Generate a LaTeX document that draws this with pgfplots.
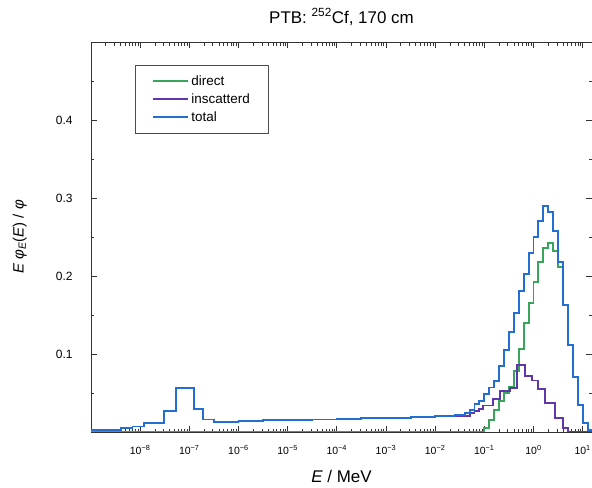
\documentclass[border=0pt]{standalone}
\usepackage{fontspec}
\setmainfont{Liberation Sans}
\usepackage{pgfplots}
\pgfplotsset{compat=1.18}
\definecolor{cdirect}{RGB}{55,165,90}
\definecolor{cinsc}{RGB}{95,55,170}
\definecolor{ctotal}{RGB}{35,110,210}
\begin{document}
\begin{tikzpicture}
\useasboundingbox (0,0) rectangle (592bp,488bp);
\begin{axis}[
  at={(91bp,56bp)}, anchor=south west,
  scale only axis, width=501bp, height=390bp,
  xmode=log, log basis x=10,
  xmin=1e-9, xmax=15.5, ymin=0, ymax=0.5,
  xtick={1e-8,1e-7,1e-6,1e-5,1e-4,1e-3,1e-2,1e-1,1,10},
  xticklabels={10\textsuperscript{−8},10\textsuperscript{−7},10\textsuperscript{−6},10\textsuperscript{−5},10\textsuperscript{−4},10\textsuperscript{−3},10\textsuperscript{−2},10\textsuperscript{−1},10\textsuperscript{0},10\textsuperscript{1}},
  minor xtick={2e-9,3e-9,4e-9,5e-9,6e-9,7e-9,8e-9,9e-9,
    2e-8,3e-8,4e-8,5e-8,6e-8,7e-8,8e-8,9e-8,
    2e-7,3e-7,4e-7,5e-7,6e-7,7e-7,8e-7,9e-7,
    2e-6,3e-6,4e-6,5e-6,6e-6,7e-6,8e-6,9e-6,
    2e-5,3e-5,4e-5,5e-5,6e-5,7e-5,8e-5,9e-5,
    2e-4,3e-4,4e-4,5e-4,6e-4,7e-4,8e-4,9e-4,
    2e-3,3e-3,4e-3,5e-3,6e-3,7e-3,8e-3,9e-3,
    0.02,0.03,0.04,0.05,0.06,0.07,0.08,0.09,
    0.2,0.3,0.4,0.5,0.6,0.7,0.8,0.9,
    2,3,4,5,6,7,8,9},
  ytick={0.1,0.2,0.3,0.4}, yticklabels={0.1,0.2,0.3,0.4},
  minor ytick={0.05,0.15,0.25,0.35,0.45},
  tick align=inside, tick pos=both,
  major tick length=6bp, minor tick length=3.5bp,
  axis line style={black!80, line width=0.9bp},
  every tick/.style={black!80, line width=0.7bp},
  xticklabel style={font=\fontsize{10.5}{12}\selectfont, yshift=-10bp},
  yticklabel style={font=\fontsize{12}{14}\selectfont, xshift=-15bp},
  xlabel={\textit{E} / MeV},
  xlabel style={at={(axis description cs:0.5,-0.113)}, anchor=center, font=\fontsize{17}{19}\selectfont},
  ylabel={\textit{E} \textit{φ}\textsubscript{\textit{E}}(\textit{E}) / \textit{φ}},
  ylabel style={at={(axis description cs:-0.142,0.5)}, anchor=center, font=\fontsize{15}{17}\selectfont},
  title={PTB: \textsuperscript{252}Cf, 170 cm},
  title style={at={(axis description cs:0.5,1)}, anchor=base, yshift=13bp, font=\fontsize{17}{19}\selectfont},
  legend style={at={(0.088,0.941)}, anchor=north west, draw=black!70, line width=0.7bp, fill=white,
    font=\fontsize{13.5}{15}\selectfont, inner xsep=17bp, inner ysep=8bp, row sep=3bp},
  legend cell align=left,
  legend image code/.code={\draw[#1, line width=2bp] (0bp,0bp) -- (35bp,0bp);},
]
\addplot[const plot mark left, cdirect, line width=1.9bp] coordinates {
(1e-9,0) (0.1,0.005) (0.1259,0.015) (0.1585,0.028) (0.1995,0.040) (0.2512,0.050) (0.3162,0.058)
(0.3981,0.078) (0.5012,0.106) (0.6310,0.140) (0.7943,0.165) (1,0.192) (1.259,0.218) (1.585,0.236)
(1.995,0.242) (2.512,0.232) (3.162,0.212) (3.981,0.163) (5.012,0.112) (6.310,0.070) (7.943,0.035)
(10,0.012) (12.59,0.002) (15.85,0)};
\addlegendentry{direct}
\addplot[const plot mark left, cinsc, line width=1.9bp] coordinates {
(1e-9,0.002) (2e-9,0.003) (4e-9,0.005) (7e-9,0.007) (1.2e-8,0.011) (3.1e-8,0.027) (5.4e-8,0.056)
(1.26e-7,0.030) (1.9e-7,0.016) (3.2e-7,0.013) (1e-6,0.014) (3.16e-6,0.015) (1e-5,0.015)
(3.16e-5,0.016) (1e-4,0.017) (3.16e-4,0.018) (1e-3,0.018) (3.16e-3,0.019) (1e-2,0.020)
(0.0158,0.021) (0.0251,0.021) (0.0398,0.021) (0.0501,0.024) (0.0631,0.027) (0.0794,0.029)
(0.0955,0.034) (0.151,0.042) (0.209,0.052) (0.34,0.056) (0.4677,0.086) (0.676,0.072) (0.933,0.066)
(1.23,0.055) (1.74,0.037) (2.75,0.018) (3.98,0.005) (5.0,0) (15.85,0)};
\addlegendentry{inscatterd}
\addplot[const plot mark left, ctotal, line width=1.9bp] coordinates {
(1e-9,0.002) (2e-9,0.003) (4e-9,0.005) (7e-9,0.007) (1.2e-8,0.011) (3.1e-8,0.027) (5.4e-8,0.056)
(1.26e-7,0.030) (1.9e-7,0.016) (3.2e-7,0.013) (1e-6,0.014) (3.16e-6,0.015) (1e-5,0.015)
(3.16e-5,0.016) (1e-4,0.017) (3.16e-4,0.018) (1e-3,0.018) (3.16e-3,0.019) (1e-2,0.020)
(0.0158,0.021) (0.0251,0.022) (0.0398,0.024) (0.0501,0.028) (0.0631,0.036) (0.0794,0.040)
(0.1,0.049) (0.1259,0.057) (0.1585,0.065) (0.1995,0.085) (0.2512,0.105) (0.3162,0.128)
(0.3981,0.153) (0.5012,0.181) (0.6310,0.203) (0.7943,0.230) (1,0.250) (1.259,0.271) (1.585,0.290)
(1.995,0.282) (2.512,0.258) (3.162,0.218) (3.981,0.163) (5.012,0.112) (6.310,0.070) (7.943,0.035)
(10,0.012) (12.59,0.002) (15.85,0)};
\addlegendentry{total}
\end{axis}
\end{tikzpicture}
\end{document}
